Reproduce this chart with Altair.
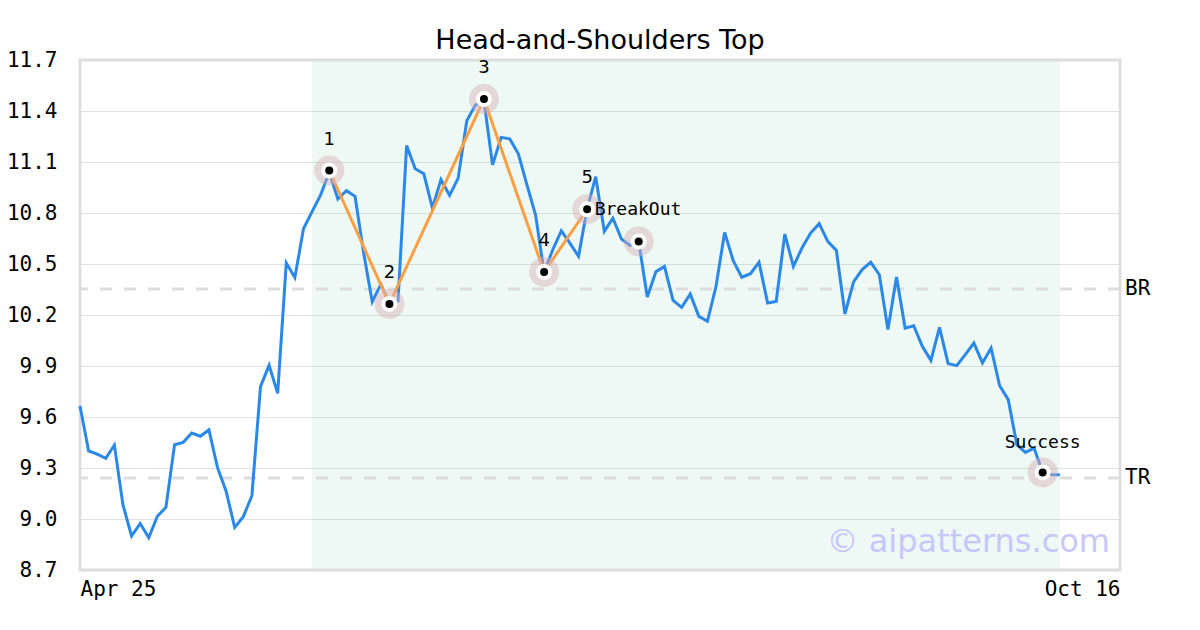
import altair as alt
import pandas as pd

# ---------------- data ----------------
close = [
    9.665, 9.401, 9.381, 9.357, 9.435, 9.083, 8.900, 8.974, 8.890, 9.016,
    9.069, 9.437, 9.451, 9.506, 9.487, 9.524, 9.302, 9.163, 8.950, 9.014,
    9.137, 9.779, 9.904, 9.739, 10.506, 10.420, 10.707, 10.808, 10.907, 11.04,
    10.882, 10.931, 10.898, 10.566, 10.278, 10.380, 10.27, 10.282, 11.197, 11.060,
    11.031, 10.829, 10.996, 10.904, 11.005, 11.343, 11.435, 11.46, 11.083, 11.245,
    11.236, 11.148, 10.966, 10.789, 10.45, 10.584, 10.695, 10.623, 10.545, 10.823,
    11.014, 10.692, 10.770, 10.647, 10.609, 10.633, 10.306, 10.455, 10.486, 10.286,
    10.245, 10.323, 10.192, 10.163, 10.369, 10.686, 10.520, 10.422, 10.443, 10.510,
    10.271, 10.280, 10.676, 10.486, 10.594, 10.682, 10.737, 10.633, 10.580, 10.206,
    10.395, 10.467, 10.510, 10.437, 10.114, 10.423, 10.123, 10.137, 10.016, 9.933,
    10.127, 9.914, 9.902, 9.967, 10.035, 9.918, 10.006, 9.784, 9.702, 9.437,
    9.392, 9.417, 9.274, 9.261, 9.261,
]
bar_index = list(range(len(close)))

pattern_idx = [29, 36, 47, 54, 59]
pattern_val = [11.05, 10.265, 11.47, 10.453, 10.822]
pattern_lbl = ["1", "2", "3", "4", "5"]

event_idx = [65, 112]
event_val = [10.633, 9.274]
event_lbl = ["BreakOut", "Success"]

zone_start = [27]
zone_end = [114]

level_val = [10.353, 9.241]
level_lbl = ["BR", "TR"]

y_ticks = [8.7, 9.0, 9.3, 9.6, 9.9, 10.2, 10.5, 10.8, 11.1, 11.4, 11.7]
x_domain = [0, 121]
x_tick_vals = [0, 121]
x_tick_lbls = ["Apr 25", "Oct 16"]

title_text = "Head-and-Shoulders Top"
watermark = "\u00a9 aipatterns.com"

# ---------------- tables ----------------
price_df = pd.DataFrame({"i": bar_index, "v": close})
pat_df = pd.DataFrame({"i": pattern_idx, "v": pattern_val, "lbl": pattern_lbl})
ev_df = pd.DataFrame({"i": event_idx, "v": event_val, "lbl": event_lbl})
marks_df = pd.concat([pat_df, ev_df], ignore_index=True)
zone_df = pd.DataFrame({"i": zone_start, "i2": zone_end})
lvl_df = pd.DataFrame({"v": level_val, "lbl": level_lbl, "i": [x_domain[1]] * len(level_val)})
wm_df = pd.DataFrame({"i": [x_domain[1]], "v": [y_ticks[0]], "lbl": [watermark]})
frame_df = pd.DataFrame({"i": [x_domain[0]], "i2": [x_domain[1]],
                         "v": [y_ticks[0]], "v2": [y_ticks[-1]]})

MONO = "DejaVu Sans Mono"
SANS = "DejaVu Sans"

label_expr = " : ".join(
    [f"datum.value == {v} ? '{l}'" for v, l in zip(x_tick_vals[:-1], x_tick_lbls[:-1])]
    + [f"'{x_tick_lbls[-1]}'"]
)

x_scale = alt.Scale(domain=x_domain, nice=False, zero=False)
y_scale = alt.Scale(domain=[y_ticks[0], y_ticks[-1]], nice=False, zero=False)

x_axis = alt.Axis(
    values=x_tick_vals, labelExpr=label_expr, labelFlush=True, grid=False,
    ticks=False, domain=False, labelFont=MONO, labelFontSize=21,
    labelColor="black", labelPadding=8, title=None,
)
y_axis = alt.Axis(
    values=y_ticks, format=".1f", grid=True, gridColor="#e2e2e2", gridWidth=1,
    ticks=False, domain=False, labelFont=MONO, labelFontSize=21,
    labelColor="black", labelPadding=23, title=None,
)

X = alt.X("i:Q", scale=x_scale, axis=x_axis)
Y = alt.Y("v:Q", scale=y_scale, axis=y_axis)

zone = alt.Chart(zone_df).mark_rect(color="#5cb88f", opacity=0.1).encode(
    x=X, x2="i2:Q"
)

frame = alt.Chart(frame_df).mark_rect(
    filled=False, stroke="#dddddd", strokeWidth=3
).encode(x=X, x2="i2:Q", y=Y, y2="v2:Q")

levels = alt.Chart(lvl_df).mark_rule(
    color="#dddddd", strokeWidth=3, strokeDash=[12, 12]
).encode(y=Y)

level_text = alt.Chart(lvl_df).mark_text(
    align="left", baseline="middle", dx=5, font=MONO, fontSize=21, color="black"
).encode(x=X, y=Y, text="lbl:N")

price = alt.Chart(price_df).mark_line(color="#2a89e8", strokeWidth=3).encode(x=X, y=Y)

pattern_line = alt.Chart(pat_df).mark_line(color="#ff9f43", strokeWidth=3).encode(
    x=X, y=Y, order="i:Q"
)

halo = alt.Chart(marks_df).mark_point(
    shape="circle", filled=True, size=900, color="#d8b0ba", opacity=0.45
).encode(x=X, y=Y)
white = alt.Chart(marks_df).mark_point(
    shape="circle", filled=True, size=256, color="white", opacity=1
).encode(x=X, y=Y)
dot = alt.Chart(marks_df).mark_point(
    shape="circle", filled=True, size=64, color="black", opacity=1
).encode(x=X, y=Y)

pat_text = alt.Chart(pat_df).mark_text(
    align="center", baseline="middle", dy=-31, font=SANS, fontSize=18, color="black"
).encode(x=X, y=Y, text="lbl:N")

brk_text = alt.Chart(ev_df[ev_df["lbl"] == "BreakOut"]).mark_text(
    align="left", baseline="middle", dx=-44, dy=-31, font=MONO, fontSize=18, color="black"
).encode(x=X, y=Y, text="lbl:N")

suc_text = alt.Chart(ev_df[ev_df["lbl"] == "Success"]).mark_text(
    align="center", baseline="middle", dy=-29, font=MONO, fontSize=18, color="black"
).encode(x=X, y=Y, text="lbl:N")

wm = alt.Chart(wm_df).mark_text(
    align="right", baseline="middle", dx=-10, dy=-28, font=SANS, fontSize=32,
    color="#c7c7fb"
).encode(x=X, y=Y, text="lbl:N")

chart = alt.layer(
    zone, frame, levels, level_text, price, pattern_line, halo, white, dot,
    pat_text, brk_text, suc_text, wm,
).properties(
    width=1040,
    height=510,
    padding={"left": 72, "top": 52, "right": 72, "bottom": 52},
    autosize=alt.AutoSizeParams(type="none"),
    title=alt.TitleParams(
        title_text, font=SANS, fontSize=27, fontWeight="normal", color="black",
        anchor="middle", offset=8, dy=14,
    ),
).configure_view(
    stroke="#dddddd", strokeWidth=3
).configure(background="white")

chart.save("out.html", embed_options={"renderer": "svg", "actions": False})
